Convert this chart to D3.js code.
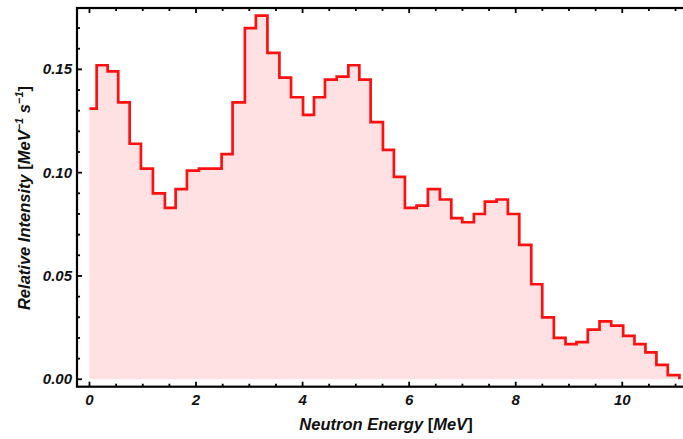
<!DOCTYPE html>
<html>
<meta charset="utf-8">
<style>
  body { margin: 0; background: #fff; }
  text { font-family: "Liberation Sans", Arial, sans-serif; font-weight: bold; font-style: italic; fill: #111; }
  .frame { fill: none; stroke: #000; stroke-width: 2.2; }
  .tick { stroke: #000; stroke-width: 1.8; }
</style>
<body>
<script src="https://d3js.org/d3.v7.min.js"></script>
<script>
  // bin edges (MeV)
  let binEdges = [0, 0.135, 0.341, 0.540, 0.754, 0.966, 1.191, 1.416, 1.617, 1.829,
    2.054, 2.267, 2.480, 2.686, 2.917, 3.123, 3.340, 3.565, 3.783, 4.008,
    4.214, 4.420, 4.640, 4.859, 5.065, 5.277, 5.508, 5.714, 5.921, 6.140,
    6.352, 6.577, 6.791, 6.997, 7.215, 7.421, 7.641, 7.853, 8.067, 8.292,
    8.498, 8.716, 8.935, 9.141, 9.353, 9.573, 9.792, 10.017, 10.229, 10.435,
    10.641, 10.854, 11.073];

  // relative intensity of each bin
  let intensity = [0.131, 0.152, 0.149, 0.134, 0.114, 0.102, 0.090, 0.083, 0.092, 0.101,
    0.102, 0.102, 0.109, 0.134, 0.170, 0.176, 0.158, 0.146, 0.1365, 0.128,
    0.1365, 0.145, 0.1465, 0.152, 0.145, 0.1245, 0.111, 0.098, 0.083, 0.084,
    0.092, 0.087, 0.078, 0.076, 0.080, 0.086, 0.087, 0.080, 0.065, 0.046,
    0.030, 0.020, 0.017, 0.018, 0.024, 0.028, 0.026, 0.021, 0.017, 0.013,
    0.007, 0.002];

  let xTicks = [0, 2, 4, 6, 8, 10];
  let yTicks = [0, 0.05, 0.10, 0.15];

  let width = 683, height = 439;

  let svg = d3.select("body").append("svg")
    .attr("width", width)
    .attr("height", height);

  let x = d3.scaleLinear().domain([-0.234, 11.29]).range([77, 691]);
  let y = d3.scaleLinear().domain([-0.0036, 0.1797]).range([386.7, 8]);

  // step points
  let pts = [];
  intensity.forEach((v, i) => {
    pts.push([binEdges[i], v]);
    pts.push([binEdges[i + 1], v]);
  });
  pts.push([binEdges[binEdges.length - 1], 0]);

  let area = d3.area()
    .x(d => x(d[0]))
    .y0(y(0))
    .y1(d => y(d[1]));

  svg.append("path")
    .datum(pts)
    .attr("d", area)
    .attr("fill", "#ffe1e3");

  let line = d3.line()
    .x(d => x(d[0]))
    .y(d => y(d[1]));

  svg.append("path")
    .datum(pts)
    .attr("d", line)
    .attr("fill", "none")
    .attr("stroke", "#ff1010")
    .attr("stroke-width", 2.7)
    .attr("stroke-linejoin", "miter");

  // frame
  let x0 = x.range()[0], x1 = x.range()[1];
  let yb = y.range()[0], yt = y.range()[1];
  svg.append("rect").attr("class", "frame")
    .attr("x", x0).attr("y", yt)
    .attr("width", x1 - x0).attr("height", yb - yt);

  // x ticks (major every 2, minor every 0.5)
  let xMinor = d3.range(0, 11.01, 0.5).filter(t => t % 2 !== 0);
  let g = svg.append("g");
  xTicks.forEach(t => {
    g.append("line").attr("class", "tick").attr("x1", x(t)).attr("x2", x(t)).attr("y1", yb).attr("y2", yb - 5);
    g.append("line").attr("class", "tick").attr("x1", x(t)).attr("x2", x(t)).attr("y1", yt).attr("y2", yt + 5);
    svg.append("text").attr("x", x(t)).attr("y", 405)
      .attr("text-anchor", "middle").attr("font-size", 15).text(t);
  });
  xMinor.forEach(t => {
    g.append("line").attr("class", "tick").attr("x1", x(t)).attr("x2", x(t)).attr("y1", yb).attr("y2", yb - 3);
    g.append("line").attr("class", "tick").attr("x1", x(t)).attr("x2", x(t)).attr("y1", yt).attr("y2", yt + 3);
  });

  // y ticks (major every 0.05, minor every 0.01)
  let yMinor = d3.range(0, 18).map(i => i / 100).filter(t => Math.round(t * 100) % 5 !== 0);
  yTicks.forEach(t => {
    g.append("line").attr("class", "tick").attr("x1", x0).attr("x2", x0 + 5).attr("y1", y(t)).attr("y2", y(t));
    svg.append("text").attr("x", 72).attr("y", y(t) + 5)
      .attr("text-anchor", "end").attr("font-size", 15).text(d3.format(".2f")(t));
  });
  yMinor.forEach(t => {
    g.append("line").attr("class", "tick").attr("x1", x0).attr("x2", x0 + 3).attr("y1", y(t)).attr("y2", y(t));
  });

  // axis titles
  let xt = svg.append("text").attr("x", 386).attr("y", 430)
    .attr("text-anchor", "middle").attr("font-size", 16.5);
  xt.append("tspan").text("Neutron Energy ");
  xt.append("tspan").attr("font-style", "normal").text("[");
  xt.append("tspan").text("MeV");
  xt.append("tspan").attr("font-style", "normal").text("]");

  let yl = svg.append("text")
    .attr("transform", "translate(30,198) rotate(-90)")
    .attr("text-anchor", "middle").attr("font-size", 16.5);
  yl.append("tspan").text("Relative Intensity ");
  yl.append("tspan").attr("font-style", "normal").text("[");
  yl.append("tspan").text("MeV");
  yl.append("tspan").attr("font-size", 11).attr("dy", -7).text("\u22121");
  yl.append("tspan").attr("dy", 7).text(" s");
  yl.append("tspan").attr("font-size", 11).attr("dy", -7).text("\u22121");
  yl.append("tspan").attr("dy", 7).attr("font-style", "normal").text("]");
</script>
</body>
</html>
